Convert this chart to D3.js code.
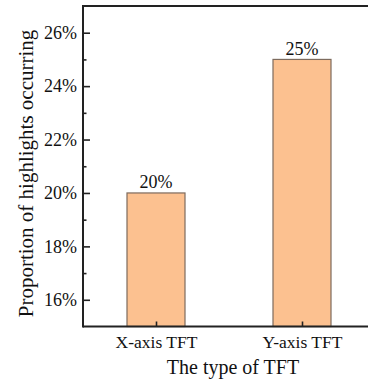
<!DOCTYPE html>
<html><head><meta charset="utf-8">
<script src="https://cdn.jsdelivr.net/npm/d3@7"></script>
<style>body{margin:0;background:#fff}svg{display:block}text{font-family:"Liberation Serif","Times New Roman",serif;fill:#111}</style>
</head><body>
<svg id="c" width="368" height="381"></svg>
<script>
const categories = ["X-axis TFT", "Y-axis TFT"];
const values = [20, 25];
const valueLabels = ["20%", "25%"];
const yTicks = [16, 18, 20, 22, 24, 26];
const yMinorTicks = [17, 19, 21, 23, 25];
const xTitle = "The type of TFT";
const yTitle = "Proportion of highlights occurring";

(function(){
const svg = d3.select("#c");
const mL = 83, mR = 375, mT = 6, mB = 326.5;
const x = d3.scalePoint().domain(categories).range([mL, mR]).padding(0.5);
const y = d3.scaleLinear().domain([15, 27]).range([mB, mT]);
const barW = 58;

svg.selectAll("rect.bar").data(values).join("rect")
  .attr("class","bar")
  .attr("x",(d,i)=>x(categories[i])-barW/2)
  .attr("y",d=>y(d))
  .attr("width",barW)
  .attr("height",d=>mB-y(d))
  .attr("fill","#FCC190")
  .attr("stroke","#7d6b5e")
  .attr("stroke-width",1.2);

svg.selectAll("text.val").data(values).join("text")
  .attr("class","val")
  .attr("x",(d,i)=>x(categories[i]))
  .attr("y",d=>y(d)-4.5)
  .attr("text-anchor","middle")
  .attr("font-size","18px")
  .text((d,i)=>valueLabels[i]);

const yAxis = d3.axisLeft(y).tickValues(yTicks).tickSize(-7).tickPadding(6).tickFormat(d=>d+"%");
const gy = svg.append("g").attr("transform",`translate(${mL},0)`).call(yAxis);
gy.select(".domain").remove();
gy.selectAll(".tick line").attr("stroke","#222").attr("stroke-width",1.6);
gy.selectAll(".tick text").attr("font-size","18px").attr("font-family","Liberation Serif").attr("fill","#111");
const yMinor = d3.axisLeft(y).tickValues(yMinorTicks).tickSize(-3.5).tickFormat("");
const gym = svg.append("g").attr("transform",`translate(${mL},0)`).call(yMinor);
gym.select(".domain").remove();
gym.selectAll(".tick line").attr("stroke","#222").attr("stroke-width",1.6);

const xAxis = d3.axisBottom(x).tickSize(-5).tickPadding(9);
const gx = svg.append("g").attr("transform",`translate(0,${mB})`).call(xAxis);
gx.select(".domain").remove();
gx.selectAll(".tick line").attr("stroke","#222").attr("stroke-width",1.6);
gx.selectAll(".tick text").attr("font-size","17.5px").attr("font-family","Liberation Serif").attr("fill","#111");

svg.append("line").attr("x1",mL).attr("x2",368).attr("y1",mB).attr("y2",mB).attr("stroke","#222").attr("stroke-width",2);
svg.append("line").attr("x1",mL).attr("x2",368).attr("y1",mT).attr("y2",mT).attr("stroke","#222").attr("stroke-width",2);
svg.append("line").attr("x1",mL).attr("x2",mL).attr("y1",mT-1).attr("y2",mB+1).attr("stroke","#222").attr("stroke-width",2);

svg.append("text").attr("x",233).attr("y",374).attr("text-anchor","middle").attr("font-size","20px").text(xTitle);
svg.append("text").attr("transform",`translate(33,173.5) rotate(-90)`).attr("text-anchor","middle").attr("font-size","21px").text(yTitle);
})();
</script>
</body></html>
